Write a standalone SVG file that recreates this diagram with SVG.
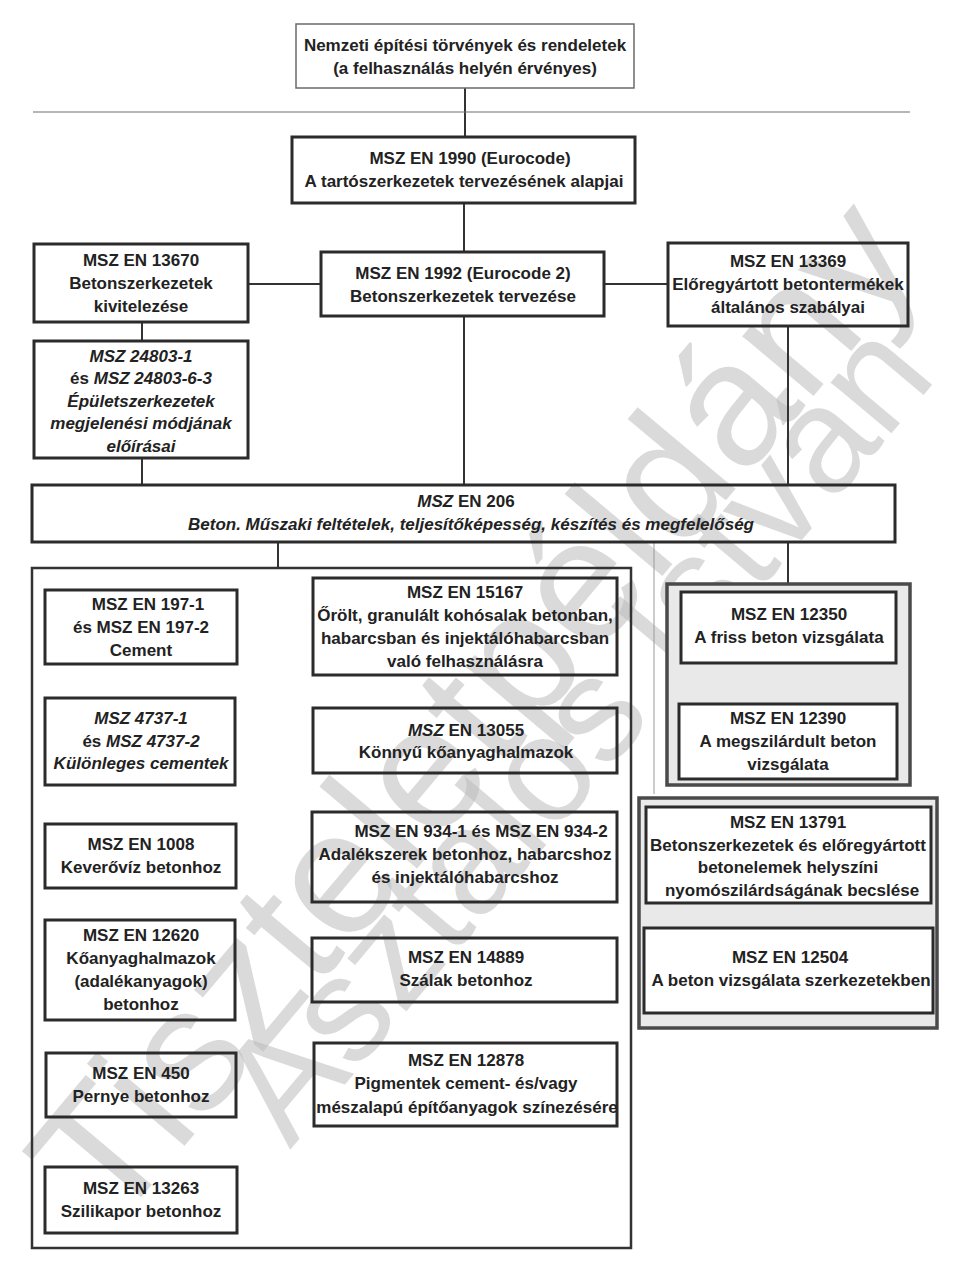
<svg xmlns="http://www.w3.org/2000/svg" width="960" height="1277" viewBox="0 0 960 1277">
<style>
.t{font-family:"Liberation Sans",Arial,Helvetica,sans-serif;font-weight:bold;font-size:17px;fill:#222;text-anchor:middle}
.i{font-style:italic}
.u{font-style:normal}
.box{fill:none;stroke:#2b2b2b;stroke-width:3}
.wbox{fill:#fff;stroke:#2b2b2b;stroke-width:3}
.thin{fill:none;stroke:#6a6a6a;stroke-width:1.5}
.grp{fill:#e9e9e9;stroke:#4a4a4a;stroke-width:3.5}
.cont{fill:none;stroke:#333;stroke-width:2.5}
.c{stroke:#333;stroke-width:2;fill:none}
.wm{font-family:"Liberation Sans",Arial,Helvetica,sans-serif;font-weight:normal;fill:#bcbcbc;fill-opacity:0.55}
</style>
<rect width="960" height="1277" fill="#ffffff"/>
<g id="watermark">
<text class="wm" font-size="176" transform="translate(112,1232) rotate(-50)">Tiszteletpéldány</text>
<text class="wm" font-size="150" transform="translate(290,1150) rotate(-50)">Asztalos István</text>
</g>
<g id="connectors">
<line class="c" x1="465" y1="88" x2="465" y2="137"/>
<line x1="33" y1="112" x2="910" y2="112" stroke="#6e6e6e" stroke-width="1.2"/>
<line class="c" x1="464" y1="203" x2="464" y2="252"/>
<line class="c" x1="464" y1="316" x2="464" y2="485"/>
<line class="c" x1="248" y1="284" x2="321" y2="284"/>
<line class="c" x1="604" y1="284" x2="668" y2="284"/>
<line class="c" x1="142" y1="322" x2="142" y2="341"/>
<line class="c" x1="142" y1="458" x2="142" y2="485"/>
<line class="c" x1="788" y1="326" x2="788" y2="485"/>
<line class="c" x1="278" y1="542" x2="278" y2="568"/>
<line class="c" x1="788" y1="542" x2="788" y2="584"/>
<line x1="654" y1="542" x2="654" y2="794" stroke="#9a9a9a" stroke-width="1"/>
</g>
<g id="n-nemzeti">
<rect class="thin" x="296" y="24" width="338" height="64"/>
<text class="t" x="465" y="51">Nemzeti építési törvények és rendeletek</text>
<text class="t" x="465" y="74">(a felhasználás helyén érvényes)</text>
</g>
<g id="n-en1990">
<rect class="box" x="292" y="137" width="343" height="66"/>
<text class="t" x="470" y="164">MSZ EN 1990 (Eurocode)</text>
<text class="t" x="464" y="187">A tartószerkezetek tervezésének alapjai</text>
</g>
<g id="n-en1992">
<rect class="box" x="321" y="252" width="283" height="64"/>
<text class="t" x="463" y="279">MSZ EN 1992 (Eurocode 2)</text>
<text class="t" x="463" y="302">Betonszerkezetek tervezése</text>
</g>
<g id="n-en13670">
<rect class="box" x="34" y="244" width="214" height="78"/>
<text class="t" x="141" y="266">MSZ EN 13670</text>
<text class="t" x="141" y="289">Betonszerkezetek</text>
<text class="t" x="141" y="312">kivitelezése</text>
</g>
<g id="n-msz24803">
<rect class="box" x="34" y="341" width="214" height="117"/>
<text class="t i" x="141" y="362">MSZ 24803-1</text>
<text class="t" x="141" y="384"><tspan class="u">és </tspan><tspan class="i">MSZ 24803-6-3</tspan></text>
<text class="t i" x="141" y="407">Épületszerkezetek</text>
<text class="t i" x="141" y="429">megjelenési módjának</text>
<text class="t i" x="141" y="452">előírásai</text>
</g>
<g id="n-en13369">
<rect class="box" x="668" y="243" width="240" height="83"/>
<text class="t" x="788" y="267">MSZ EN 13369</text>
<text class="t" x="788" y="290">Előregyártott betontermékek</text>
<text class="t" x="788" y="313">általános szabályai</text>
</g>
<g id="n-en206">
<rect class="box" x="32" y="485" width="863" height="57"/>
<text class="t" x="466" y="507"><tspan class="i">MSZ</tspan> EN 206</text>
<text class="t i" x="471" y="530">Beton. Műszaki feltételek, teljesítőképesség, készítés és megfelelőség</text>
</g>
<g id="g-components">
<rect class="cont" x="32" y="568" width="599" height="680"/>
</g>
<g id="n-en197">
<rect class="box" x="45" y="590" width="192" height="74"/>
<text class="t" x="148" y="610">MSZ EN 197-1</text>
<text class="t" x="141" y="633">és MSZ EN 197-2</text>
<text class="t" x="141" y="656">Cement</text>
</g>
<g id="n-msz4737">
<rect class="box" x="45" y="698" width="190" height="87"/>
<text class="t i" x="141" y="724">MSZ 4737-1</text>
<text class="t" x="141" y="747"><tspan class="u">és </tspan><tspan class="i">MSZ 4737-2</tspan></text>
<text class="t i" x="141" y="769">Különleges cementek</text>
</g>
<g id="n-en1008">
<rect class="box" x="45" y="824" width="191" height="64"/>
<text class="t" x="141" y="850">MSZ EN 1008</text>
<text class="t" x="141" y="873">Keverővíz betonhoz</text>
</g>
<g id="n-en12620">
<rect class="box" x="45" y="920" width="190" height="100"/>
<text class="t" x="141" y="941">MSZ EN 12620</text>
<text class="t" x="141" y="964">Kőanyaghalmazok</text>
<text class="t" x="141" y="987">(adalékanyagok)</text>
<text class="t" x="141" y="1010">betonhoz</text>
</g>
<g id="n-en450">
<rect class="box" x="46" y="1053" width="190" height="64"/>
<text class="t" x="141" y="1079">MSZ EN 450</text>
<text class="t" x="141" y="1102">Pernye betonhoz</text>
</g>
<g id="n-en13263">
<rect class="box" x="45" y="1167" width="192" height="66"/>
<text class="t" x="141" y="1194">MSZ EN 13263</text>
<text class="t" x="141" y="1217">Szilikapor betonhoz</text>
</g>
<g id="n-en15167">
<rect class="box" x="313" y="578" width="304" height="97"/>
<text class="t" x="465" y="598">MSZ EN 15167</text>
<text class="t" x="465" y="621">Őrölt, granulált kohósalak betonban,</text>
<text class="t" x="465" y="644">habarcsban és injektálóhabarcsban</text>
<text class="t" x="465" y="667">való felhasználásra</text>
</g>
<g id="n-en13055">
<rect class="box" x="313" y="708" width="304" height="65"/>
<text class="t" x="466" y="736"><tspan class="i">MSZ</tspan> EN 13055</text>
<text class="t" x="466" y="758">Könnyű kőanyaghalmazok</text>
</g>
<g id="n-en934">
<rect class="box" x="312" y="812" width="305" height="90"/>
<text class="t" x="481" y="837">MSZ EN 934-1 és MSZ EN 934-2</text>
<text class="t" x="465" y="860">Adalékszerek betonhoz, habarcshoz</text>
<text class="t" x="465" y="883">és injektálóhabarcshoz</text>
</g>
<g id="n-en14889">
<rect class="box" x="312" y="938" width="305" height="64"/>
<text class="t" x="466" y="963">MSZ EN 14889</text>
<text class="t" x="466" y="986">Szálak betonhoz</text>
</g>
<g id="n-en12878">
<rect class="box" x="314" y="1043" width="303" height="83"/>
<text class="t" x="466" y="1066">MSZ EN 12878</text>
<text class="t" x="466" y="1089">Pigmentek cement- és/vagy</text>
<text class="t" x="467" y="1113">mészalapú építőanyagok színezésére</text>
</g>
<g id="g-concrete-tests">
<rect class="grp" x="667" y="584" width="243" height="201"/>
</g>
<g id="n-en12350">
<rect class="wbox" x="681" y="592" width="215" height="71"/>
<text class="t" x="789" y="620">MSZ EN 12350</text>
<text class="t" x="789" y="643">A friss beton vizsgálata</text>
</g>
<g id="n-en12390">
<rect class="wbox" x="679" y="704" width="218" height="75"/>
<text class="t" x="788" y="724">MSZ EN 12390</text>
<text class="t" x="788" y="747">A megszilárdult beton</text>
<text class="t" x="788" y="770">vizsgálata</text>
</g>
<g id="g-structure-tests">
<rect class="grp" x="639" y="798" width="298" height="230"/>
</g>
<g id="n-en13791">
<rect class="wbox" x="646" y="807" width="285" height="96"/>
<text class="t" x="788" y="828">MSZ EN 13791</text>
<text class="t" x="788" y="851">Betonszerkezetek és előregyártott</text>
<text class="t" x="788" y="873">betonelemek helyszíni</text>
<text class="t" x="792" y="896">nyomószilárdságának becslése</text>
</g>
<g id="n-en12504">
<rect class="wbox" x="644" y="928" width="289" height="85"/>
<text class="t" x="790" y="963">MSZ EN 12504</text>
<text class="t" x="791" y="986">A beton vizsgálata szerkezetekben</text>
</g>
</svg>
